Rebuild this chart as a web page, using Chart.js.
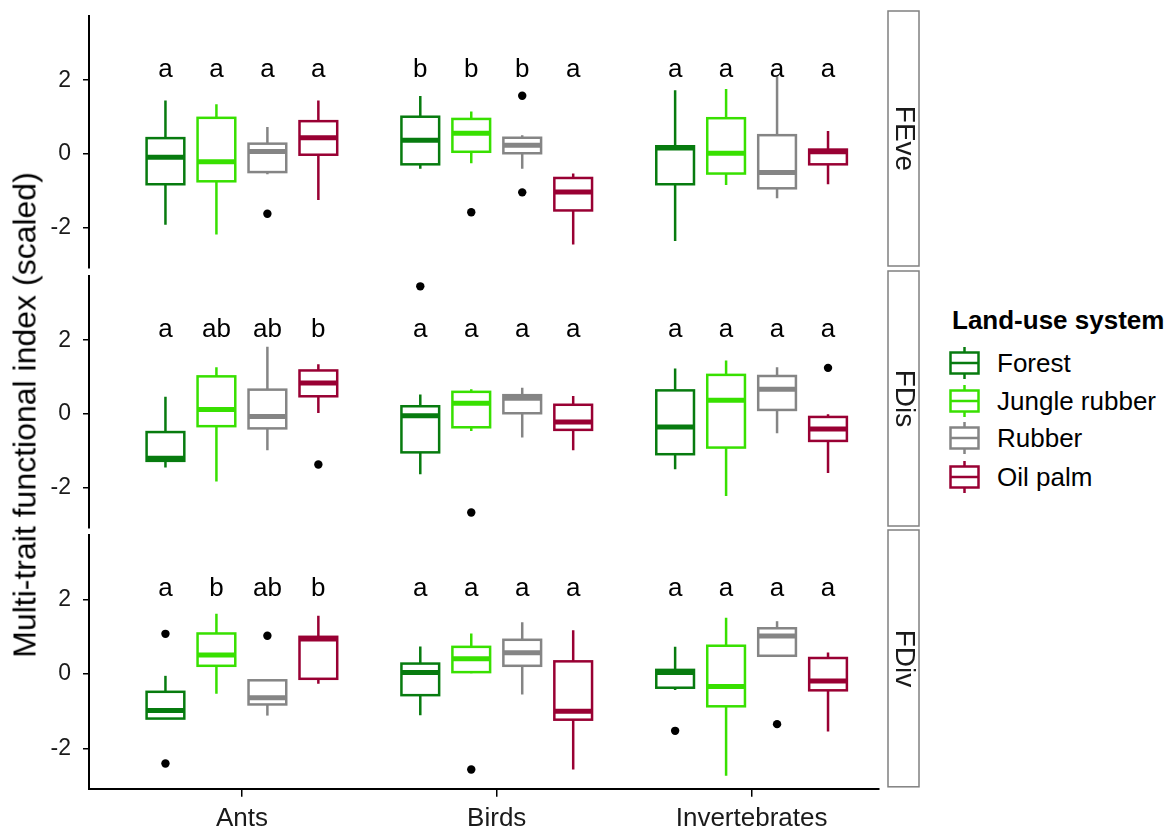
<!DOCTYPE html>
<html>
<head>
<meta charset="utf-8">
<script src="https://cdn.jsdelivr.net/npm/chart.js@4.4.0/dist/chart.umd.min.js"></script>
<style>
  body { margin: 0; background: #fff; overflow: hidden; font-family: 'Liberation Sans', Arial, sans-serif; }
  #wrap { position: relative; width: 1174px; height: 832px; overflow: hidden; }
  .panel { position: absolute; left: 0; }
  #ytitle { position: absolute; left: 25px; top: 415px; transform: translate(-50%, -50%) rotate(-90deg);
            white-space: nowrap; font-size: 32px; color: #000; }
  #legend { position: absolute; left: 949px; top: 0; }
  #legend .title { position: absolute; left: 3px; top: 305px; line-height: 30px; font-size: 26px; font-weight: bold; white-space: nowrap; color: #000; }
  #legend .item { position: absolute; left: 0; height: 36px; white-space: nowrap; }
  #legend .item svg { position: absolute; left: 0; top: 0; }
  #legend .item span { position: absolute; left: 48px; top: 0; line-height: 36px; font-size: 26px; color: #000; }
</style>
</head>
<body>
<div id="wrap">
  <canvas id="c0" class="panel"></canvas>
  <canvas id="c1" class="panel"></canvas>
  <canvas id="c2" class="panel"></canvas>
  <div id="ytitle">Multi-trait functional index (scaled)</div>
  <div id="legend"><div class="title">Land-use system</div></div>
</div>
<script>
const taxa = ['Ants', 'Birds', 'Invertebrates'];
const systems = ['Forest', 'Jungle rubber', 'Rubber', 'Oil palm'];
const colors = ['#077b0f', '#38e000', '#858585', '#990033'];
const yTicks = [-2, 0, 2];

// [lower whisker, q1, median, q3, upper whisker]; ants x4, birds x4, invertebrates x4
const feveBoxes = [
  [-1.92, -0.82, -0.09, 0.43, 1.45], [-2.18, -0.74, -0.21, 0.98, 1.35], [-0.55, -0.49, 0.07, 0.28, 0.73], [-1.25, -0.02, 0.44, 0.89, 1.45],
  [-0.40, -0.28, 0.37, 1.01, 1.57], [-0.25, 0.06, 0.56, 0.95, 1.15], [-0.40, 0.02, 0.24, 0.44, 0.51], [-2.45, -1.53, -1.03, -0.65, -0.53],
  [-2.36, -0.82, 0.16, 0.21, 1.73], [-0.84, -0.53, 0.02, 0.97, 1.76], [-1.20, -0.93, -0.50, 0.51, 2.11], [-0.82, -0.28, 0.06, 0.12, 0.62]
];
const feveOutliers = [[], [], [-1.62], [], [], [-1.58], [1.58, -1.04], [], [], [], [], []];
const feveLetters = ['a', 'a', 'a', 'a', 'b', 'b', 'b', 'a', 'a', 'a', 'a', 'a'];

const fdisBoxes = [
  [-1.45, -1.27, -1.20, -0.49, 0.47], [-1.83, -0.33, 0.12, 1.02, 1.27], [-0.98, -0.39, -0.07, 0.66, 1.82], [0.03, 0.48, 0.84, 1.18, 1.35],
  [-1.63, -1.04, -0.05, 0.21, 0.53], [-0.46, -0.36, 0.29, 0.60, 0.67], [-0.64, 0.02, 0.43, 0.51, 0.71], [-0.98, -0.43, -0.22, 0.25, 0.49],
  [-1.50, -1.09, -0.35, 0.64, 1.23], [-2.22, -0.91, 0.37, 1.06, 1.45], [-0.52, 0.11, 0.67, 1.03, 1.27], [-1.60, -0.73, -0.41, -0.08, -0.01]
];
const fdisOutliers = [[], [], [], [-1.37], [3.46], [-2.67], [], [], [], [], [], [1.25]];
const fdisLetters = ['a', 'ab', 'ab', 'b', 'a', 'a', 'a', 'a', 'a', 'a', 'a', 'a'];

const fdivBoxes = [
  [-1.20, -1.20, -0.98, -0.48, -0.05], [-0.53, 0.22, 0.51, 1.09, 1.62], [-1.12, -0.82, -0.64, -0.17, -0.17], [-0.26, -0.13, 0.94, 1.00, 1.57],
  [-1.11, -0.57, 0.04, 0.28, 0.74], [0.02, 0.05, 0.41, 0.73, 1.09], [-0.55, 0.22, 0.57, 0.92, 1.39], [-2.57, -1.23, -1.00, 0.34, 1.18],
  [-0.43, -0.37, 0.04, 0.11, 0.73], [-2.74, -0.87, -0.34, 0.76, 1.51], [0.49, 0.49, 1.02, 1.23, 1.42], [-1.55, -0.44, -0.19, 0.43, 0.58]
];
const fdivOutliers = [[1.08, -2.41], [], [1.03], [], [], [-2.57], [], [], [-1.53], [], [-1.35], []];
const fdivLetters = ['a', 'b', 'ab', 'b', 'a', 'a', 'a', 'a', 'a', 'a', 'a', 'a'];

const panels = [
  { name: 'FEve', boxes: feveBoxes, outliers: feveOutliers, letters: feveLetters },
  { name: 'FDis', boxes: fdisBoxes, outliers: fdisOutliers, letters: fdisLetters },
  { name: 'FDiv', boxes: fdivBoxes, outliers: fdivOutliers, letters: fdivLetters }
];

const font = "'Liberation Sans', Arial, sans-serif";
const letterY = 2.1;   // y value where the letters sit
const dodge = 0.2;     // spacing of the 4 boxes inside a taxon
const boxW = 0.148;
const panelTop = [16, 276, 535];
const areaH = 252;

// x position of box k (taxon = k / 4, system = k % 4)
function xPos(k) {
  return Math.floor(k / 4) + 1 + (k % 4 - 1.5) * dodge;
}

function boxPlugin(p) {
  return {
    id: 'boxes',
    beforeDatasetsDraw(chart) {
      const ctx = chart.ctx, x = chart.scales.x, y = chart.scales.y;
      p.boxes.forEach((b, k) => {
        const xc = xPos(k);
        const l = x.getPixelForValue(xc - boxW / 2), r = x.getPixelForValue(xc + boxW / 2), m = x.getPixelForValue(xc);
        const top = y.getPixelForValue(b[3]), bot = y.getPixelForValue(b[1]);
        ctx.save();
        ctx.strokeStyle = colors[k % 4];
        ctx.lineWidth = 2.5;
        ctx.beginPath();
        ctx.moveTo(m, y.getPixelForValue(b[0])); ctx.lineTo(m, bot);
        ctx.moveTo(m, top); ctx.lineTo(m, y.getPixelForValue(b[4]));
        ctx.stroke();
        ctx.fillStyle = '#fff';
        ctx.fillRect(l, top, r - l, bot - top);
        ctx.strokeRect(l, top, r - l, bot - top);
        ctx.lineWidth = 5;
        ctx.beginPath();
        ctx.moveTo(l, y.getPixelForValue(b[2])); ctx.lineTo(r, y.getPixelForValue(b[2]));
        ctx.stroke();
        ctx.restore();
      });
    },
    afterDatasetsDraw(chart) {
      const ctx = chart.ctx, x = chart.scales.x, y = chart.scales.y;
      ctx.save();
      ctx.font = '26px ' + font;
      ctx.fillStyle = '#000';
      ctx.textAlign = 'center';
      ctx.textBaseline = 'alphabetic';
      p.letters.forEach((t, k) => ctx.fillText(t, x.getPixelForValue(xPos(k)), y.getPixelForValue(letterY)));
      ctx.restore();
    },
    afterDraw(chart) {
      // facet strip on the right
      const ctx = chart.ctx, a = chart.chartArea;
      const sx = a.right + 9, sy = a.top - 5, sw = 31, sh = a.height + 3;
      ctx.save();
      ctx.fillStyle = '#fff';
      ctx.strokeStyle = '#808080';
      ctx.lineWidth = 1.5;
      ctx.fillRect(sx, sy, sw, sh);
      ctx.strokeRect(sx, sy, sw, sh);
      ctx.translate(sx + sw / 2, sy + sh / 2);
      ctx.rotate(Math.PI / 2);
      ctx.font = '28px ' + font;
      ctx.fillStyle = '#1a1a1a';
      ctx.textAlign = 'center';
      ctx.textBaseline = 'middle';
      ctx.fillText(p.name, 0, 0);
      ctx.restore();
    }
  };
}

function makeChart(i) {
  const p = panels[i];
  const last = i === panels.length - 1;
  const canvas = document.getElementById('c' + i);
  canvas.width = 930;
  canvas.height = last ? 341 : 30 + areaH + 30;
  canvas.style.top = (panelTop[i] - 30) + 'px';

  const pts = [];
  p.outliers.forEach((list, k) => list.forEach(v => pts.push({ x: xPos(k), y: v })));

  return new Chart(canvas, {
    type: 'scatter',
    data: {
      datasets: [{
        data: pts,
        pointRadius: 4.2,
        pointBackgroundColor: '#000',
        pointBorderWidth: 0
      }]
    },
    options: {
      responsive: false,
      animation: false,
      layout: { padding: { top: 30, bottom: last ? 6 : 30, left: 0, right: 51 } },
      plugins: { legend: { display: false }, tooltip: { enabled: false } },
      scales: {
        x: {
          type: 'linear', min: 0.4, max: 3.5, display: last,
          afterBuildTicks: s => { s.ticks = taxa.map((t, j) => ({ value: j + 1 })); },
          ticks: { callback: v => taxa[v - 1], font: { size: 26, family: font }, color: '#1a1a1a', padding: 6, maxRotation: 0, autoSkip: false },
          grid: { drawOnChartArea: false, tickLength: 8, color: '#000', lineWidth: 1.5 },
          border: { color: '#000', width: 2 }
        },
        y: {
          min: -3.09, max: 3.74,
          afterBuildTicks: s => { s.ticks = yTicks.map(v => ({ value: v })); },
          afterFit: s => { s.width = 89; },
          ticks: { font: { size: 23, family: font }, color: '#1a1a1a', padding: 12 },
          grid: { drawOnChartArea: false, tickLength: 6, color: '#000', lineWidth: 1.5 },
          border: { color: '#000', width: 2 }
        }
      }
    },
    plugins: [boxPlugin(p)]
  });
}

panels.forEach((p, i) => makeChart(i));

// legend
const legend = document.getElementById('legend');
const itemY = [363, 401, 438, 477];
systems.forEach((s, j) => {
  const c = colors[j];
  const d = document.createElement('div');
  d.className = 'item';
  d.style.top = (itemY[j] - 18) + 'px';
  d.innerHTML =
    '<svg width="34" height="36">' +
    '<line x1="15.5" y1="2" x2="15.5" y2="34" stroke="' + c + '" stroke-width="2.5"/>' +
    '<rect x="1.5" y="7.5" width="28" height="21" fill="#fff" stroke="' + c + '" stroke-width="2.5"/>' +
    '<line x1="1.5" y1="18" x2="29.5" y2="18" stroke="' + c + '" stroke-width="2.5"/>' +
    '</svg><span>' + s + '</span>';
  legend.appendChild(d);
});
</script>
</body>
</html>
